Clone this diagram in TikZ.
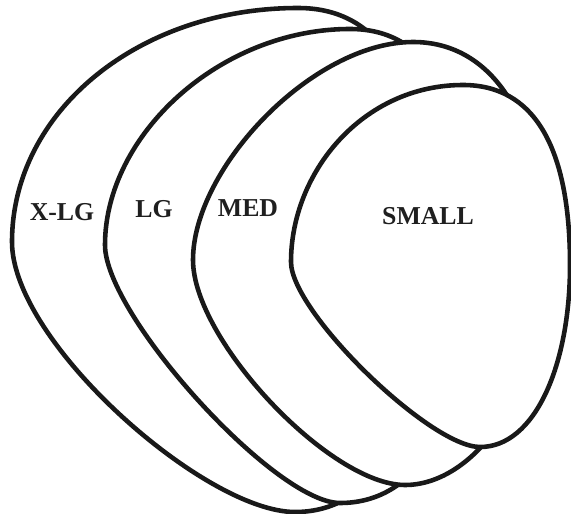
\documentclass[tikz,border=0pt]{standalone}
\usepackage{fontspec}
\setmainfont{Liberation Serif}
\begin{document}
\begin{tikzpicture}[x=0.03cm,y=-0.03cm,
  pick/.style={draw=black!90,fill=white,line width=3.9pt,line join=round},
  lbl/.style={font=\fontsize{22}{22}\selectfont\bfseries,text=black!88,inner sep=0pt}]
\useasboundingbox (0,0) rectangle (571,514);
% X-LG
\draw[pick] (12,242) .. controls (12,112) and (138,8) .. (298,8)
  .. controls (388,8) and (430,90) .. (430,260)
  .. controls (430,430) and (375,512) .. (295,512)
  .. controls (205,512) and (12,342) .. cycle;
% LG
\draw[pick] (105,245) .. controls (105,135) and (220,29) .. (350,29)
  .. controls (430,29) and (470,100) .. (470,260)
  .. controls (470,420) and (420,503) .. (340,503)
  .. controls (275,503) and (105,315) .. cycle;
% MED
\draw[pick] (193,260) .. controls (193,168) and (313,42) .. (413,42)
  .. controls (493,42) and (545,120) .. (545,260)
  .. controls (545,390) and (475,485) .. (405,485)
  .. controls (330,485) and (193,340) .. cycle;
% SMALL
\draw[pick] (291,262) .. controls (291,172) and (363,85) .. (463,85)
  .. controls (533,85) and (570,145) .. (570,265)
  .. controls (570,365) and (535,447) .. (480,447)
  .. controls (430,447) and (291,312) .. cycle;
\node[lbl] (xlg) at (62,212) {X-LG};
\node[lbl] (lg) at (154,209) {LG};
\node[lbl] (med) at (248,208) {MED};
\node[lbl] (small) at (428,216) {SMALL};
\end{tikzpicture}
\end{document}
